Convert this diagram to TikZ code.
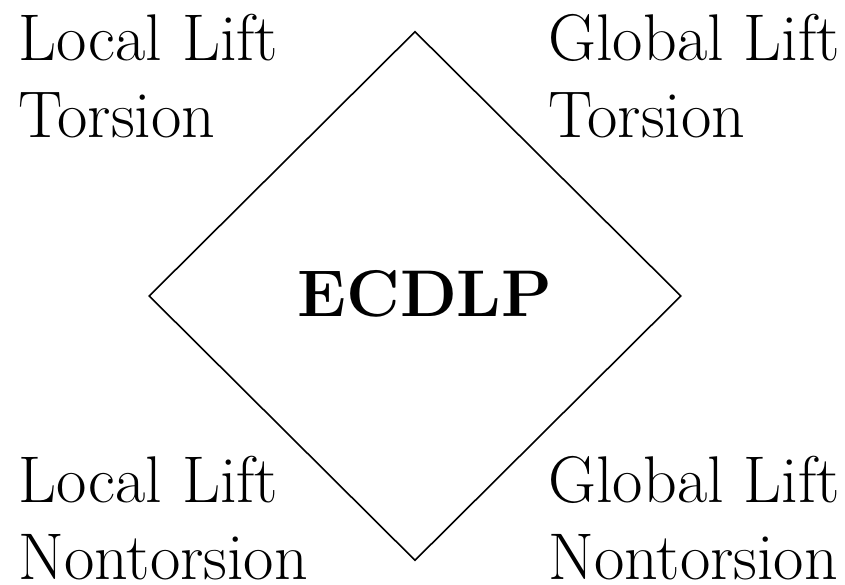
\documentclass[tikz,border=0pt]{standalone}
\usetikzlibrary{shapes.geometric}

\begin{document}
\begin{tikzpicture}[x=0.01325cm,y=-0.01325cm,
  cornertext/.style={anchor=north west,align=left,inner sep=0pt,font=\fontsize{24.88}{29}\selectfont}]
\useasboundingbox (0,0) rectangle (845,585);
\node[diamond,draw,line width=0.6pt,inner sep=0pt,outer sep=0pt,minimum width=7.04cm,minimum height=7cm] (dia) at (415,296) {};
\node[font=\fontsize{24.88}{29}\selectfont\bfseries,inner sep=0pt] (ecdlp) at (425,294) {ECDLP};
\node[cornertext] (localtor) at (18,14) {Local Lift\\Torsion};
\node[cornertext] (globaltor) at (548,14) {Global Lift\\Torsion};
\node[cornertext] (localnon) at (18,456) {Local Lift\\Nontorsion};
\node[cornertext] (globalnon) at (548,456) {Global Lift\\Nontorsion};
\end{tikzpicture}
\end{document}
